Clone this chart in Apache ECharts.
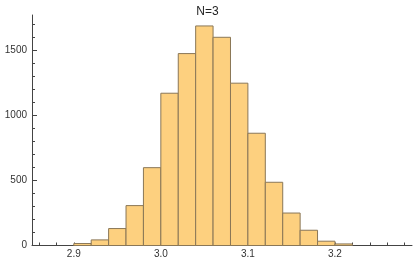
<!DOCTYPE html>
<html>
<head>
<meta charset="utf-8">
<script src="https://cdn.jsdelivr.net/npm/echarts@6/dist/echarts.min.js"></script>
<style>html,body{margin:0;padding:0;background:#fff}#c{width:415px;height:267px}</style>
</head>
<body>
<div id="c"></div>
<script>
var title = 'N=3';
var binWidth = 0.02;
var binStarts = [2.90, 2.92, 2.94, 2.96, 2.98, 3.00, 3.02, 3.04, 3.06, 3.08, 3.10, 3.12, 3.14, 3.16, 3.18, 3.20];
var counts = [15, 43, 130, 306, 597, 1168, 1472, 1684, 1597, 1245, 861, 485, 249, 117, 33, 12];
var xTickLabels = [2.9, 3.0, 3.1, 3.2];
var xMinorTicks = [2.86, 2.88, 2.90, 2.92, 2.94, 2.96, 2.98, 3.00, 3.02, 3.04, 3.06, 3.08, 3.10, 3.12, 3.14, 3.16, 3.18, 3.20, 3.22, 3.24, 3.26, 3.28];
var yTickLabels = [0, 500, 1000, 1500];
var yMinorTicks = [100, 200, 300, 400, 600, 700, 800, 900, 1100, 1200, 1300, 1400, 1600, 1700];

var data = binStarts.map(function (s, i) { return [s, counts[i]]; });
var axisColor = '#444';
var font = 'Liberation Sans, Arial, sans-serif';

var chart = echarts.init(document.getElementById('c'), null, {renderer: 'canvas'});
chart.setOption({
  animation: false,
  title: {
    text: title, left: 'center', top: 1,
    textStyle: {fontFamily: font, fontSize: 12, fontWeight: 'normal', color: '#222'}
  },
  grid: {left: 32, right: 3, top: 15, bottom: 21.5, containLabel: false},
  xAxis: {
    type: 'value', min: 2.852, max: 3.2885,
    axisLine: {show: true, onZero: false, lineStyle: {color: axisColor, width: 1}},
    axisTick: {show: true, inside: true, length: 3, customValues: xMinorTicks, lineStyle: {color: axisColor}},
    axisLabel: {customValues: xTickLabels, margin: 4, fontFamily: font, fontSize: 10, color: '#333',
      formatter: function (v) { return v.toFixed(1); }},
    splitLine: {show: false}
  },
  yAxis: [{
    type: 'value', min: 0, max: 1768, position: 'left',
    axisLine: {show: true, onZero: false, lineStyle: {color: axisColor, width: 1}},
    axisTick: {show: true, inside: true, length: 5, customValues: yTickLabels, lineStyle: {color: axisColor}},
    axisLabel: {customValues: yTickLabels, margin: 5, fontFamily: font, fontSize: 10, color: '#333',
      formatter: function (v) { return String(Math.round(v)); }},
    splitLine: {show: false}
  }, {
    type: 'value', min: 0, max: 1768, position: 'left',
    axisLine: {show: false},
    axisTick: {show: true, inside: true, length: 3, customValues: yMinorTicks, lineStyle: {color: axisColor}},
    axisLabel: {show: false},
    splitLine: {show: false}
  }],
  series: [{
    type: 'custom',
    xAxisIndex: 0, yAxisIndex: 0,
    data: data,
    renderItem: function (params, api) {
      var s = api.value(0), c = api.value(1);
      var p0 = api.coord([s, c]);
      var p1 = api.coord([s + binWidth, 0]);
      return {
        type: 'rect',
        shape: {x: p0[0], y: p0[1], width: p1[0] - p0[0], height: p1[1] - p0[1]},
        style: {fill: '#FDD07F', stroke: '#8a7757', lineWidth: 1}
      };
    }
  }]
});
</script>
</body>
</html>
